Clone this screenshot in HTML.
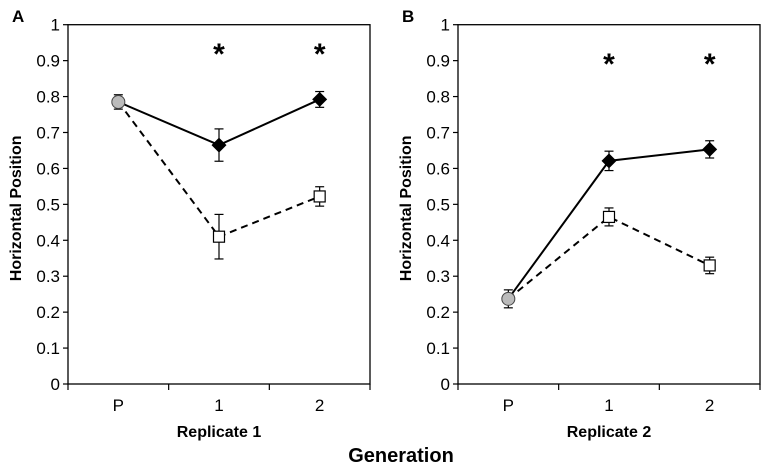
<!DOCTYPE html>
<html><head><meta charset="utf-8"><style>
body{margin:0;background:#fff;}
svg text{font-family:"Liberation Sans",Arial,sans-serif;}
</style></head><body>
<svg id="chart" width="768" height="470" xmlns="http://www.w3.org/2000/svg">
<text x="401" y="462" font-size="20" font-weight="bold" text-anchor="middle">Generation</text>
</svg>
<script>
const categories = ["P","1","2"];
const yTicks = [0,0.1,0.2,0.3,0.4,0.5,0.6,0.7,0.8,0.9,1];
const yTickLabels = ["0","0.1","0.2","0.3","0.4","0.5","0.6","0.7","0.8","0.9","1"];
// Replicate 1
const r1Parent = 0.785, r1ParentErr = 0.02;
const r1Solid = [0.665, 0.792];
const r1SolidErr = [0.045, 0.022];
const r1Dashed = [0.41, 0.522];
const r1DashedErr = [0.062, 0.027];
// Replicate 2
const r2Parent = 0.237, r2ParentErr = 0.025;
const r2Solid = [0.621, 0.653];
const r2SolidErr = [0.027, 0.024];
const r2Dashed = [0.465, 0.33];
const r2DashedErr = [0.025, 0.023];
const sigLabels = ["*","*"];

const NS="http://www.w3.org/2000/svg";
const svg=document.getElementById('chart');
function mk(tag,attrs,parent){const e=document.createElementNS(NS,tag);for(const k in attrs)e.setAttribute(k,attrs[k]);(parent||svg).appendChild(e);return e;}

function panel(cfg){
  const L=cfg.left,R=cfg.left+302,T=24.7,B=384;
  const g=mk('g',{});
  
  
  const y=v=>B-v*(B-T);
  const bw=(R-L)/categories.length;
  const x=i=>L+bw*(i+0.5);
  const box=mk('rect',{x:L,y:T,width:R-L,height:B-T,fill:'none',stroke:'#000','stroke-width':1.3},g);
  
  
  yTicks.forEach((v,i)=>{
    mk('line',{x1:L-5,x2:L,y1:y(v),y2:y(v),stroke:'#000','stroke-width':1.2},g);
    const t=mk('text',{x:L-8,y:y(v)+6,'font-size':17,'text-anchor':'end'},g);
    t.textContent=yTickLabels[i];
    
    
  });
  for(let i=0;i<=categories.length;i++){
    mk('line',{x1:L+bw*i,x2:L+bw*i,y1:B,y2:B+6,stroke:'#000','stroke-width':1.2},g);
  }
  categories.forEach((c,i)=>{
    const t=mk('text',{x:x(i),y:411,'font-size':17,'text-anchor':'middle'},g);
    t.textContent=c;
    
    
  });
  const xt=mk('text',{x:(L+R)/2,y:437,'font-size':16,'font-weight':'bold','text-anchor':'middle'},g);
  xt.textContent=cfg.sub;
  
  
  const yt=mk('text',{x:0,y:0,'font-size':16,'font-weight':'bold','text-anchor':'middle',transform:`translate(${L-47},${(T+B)/2+4}) rotate(-90)`},g);
  yt.textContent='Horizontal Position';
  
  
  const pl=mk('text',{x:L-56,y:22,'font-size':17,'font-weight':'bold'},g);
  pl.textContent=cfg.letter;
  
  
  const dp=[[x(0),y(cfg.parent)],[x(1),y(cfg.dashed[0])],[x(2),y(cfg.dashed[1])]];
  const sp=[[x(0),y(cfg.parent)],[x(1),y(cfg.solid[0])],[x(2),y(cfg.solid[1])]];
  const dl=mk('polyline',{points:dp.map(p=>p.join(',')).join(' '),fill:'none',stroke:'#000','stroke-width':2,'stroke-dasharray':'7,5'},g);
  
  
  const sl=mk('polyline',{points:sp.map(p=>p.join(',')).join(' '),fill:'none',stroke:'#000','stroke-width':2},g);
  
  
  function err(cx,v,e){
    const a=y(v+e),b=y(v-e);
    mk('line',{x1:cx,x2:cx,y1:a,y2:b,stroke:'#000','stroke-width':1.2},g);
    mk('line',{x1:cx-4.5,x2:cx+4.5,y1:a,y2:a,stroke:'#000','stroke-width':1.2},g);
    mk('line',{x1:cx-4.5,x2:cx+4.5,y1:b,y2:b,stroke:'#000','stroke-width':1.2},g);
  }
  err(x(0),cfg.parent,cfg.parentErr);
  const c=mk('circle',{cx:x(0),cy:y(cfg.parent),r:6.5,fill:'#bbb',stroke:'#444','stroke-width':1},g);
  
  
  for(let i=0;i<2;i++){
    const cx=x(i+1);
    err(cx,cfg.dashed[i],cfg.dashedErr[i]);
    const sq=mk('rect',{x:cx-5.5,y:y(cfg.dashed[i])-5.5,width:11,height:11,fill:'#fff',stroke:'#000','stroke-width':1.2},g);
    
    
    err(cx,cfg.solid[i],cfg.solidErr[i]);
    const cy=y(cfg.solid[i]);
    const d=mk('polygon',{points:`${cx},${cy-7.5} ${cx+7.5},${cy} ${cx},${cy+7.5} ${cx-7.5},${cy}`,fill:'#000'},g);
    
    
    const st=mk('text',{x:cx,y:cfg.starY,'font-size':30,'font-weight':'bold','text-anchor':'middle'},g);
    st.textContent=sigLabels[i];
    
    
  }
}
panel({name:'panel-a',letter:'A',sub:'Replicate 1',left:68,parent:r1Parent,parentErr:r1ParentErr,solid:r1Solid,solidErr:r1SolidErr,dashed:r1Dashed,dashedErr:r1DashedErr,starY:64});
panel({name:'panel-b',letter:'B',sub:'Replicate 2',left:458,parent:r2Parent,parentErr:r2ParentErr,solid:r2Solid,solidErr:r2SolidErr,dashed:r2Dashed,dashedErr:r2DashedErr,starY:74});
</script>
</body></html>
